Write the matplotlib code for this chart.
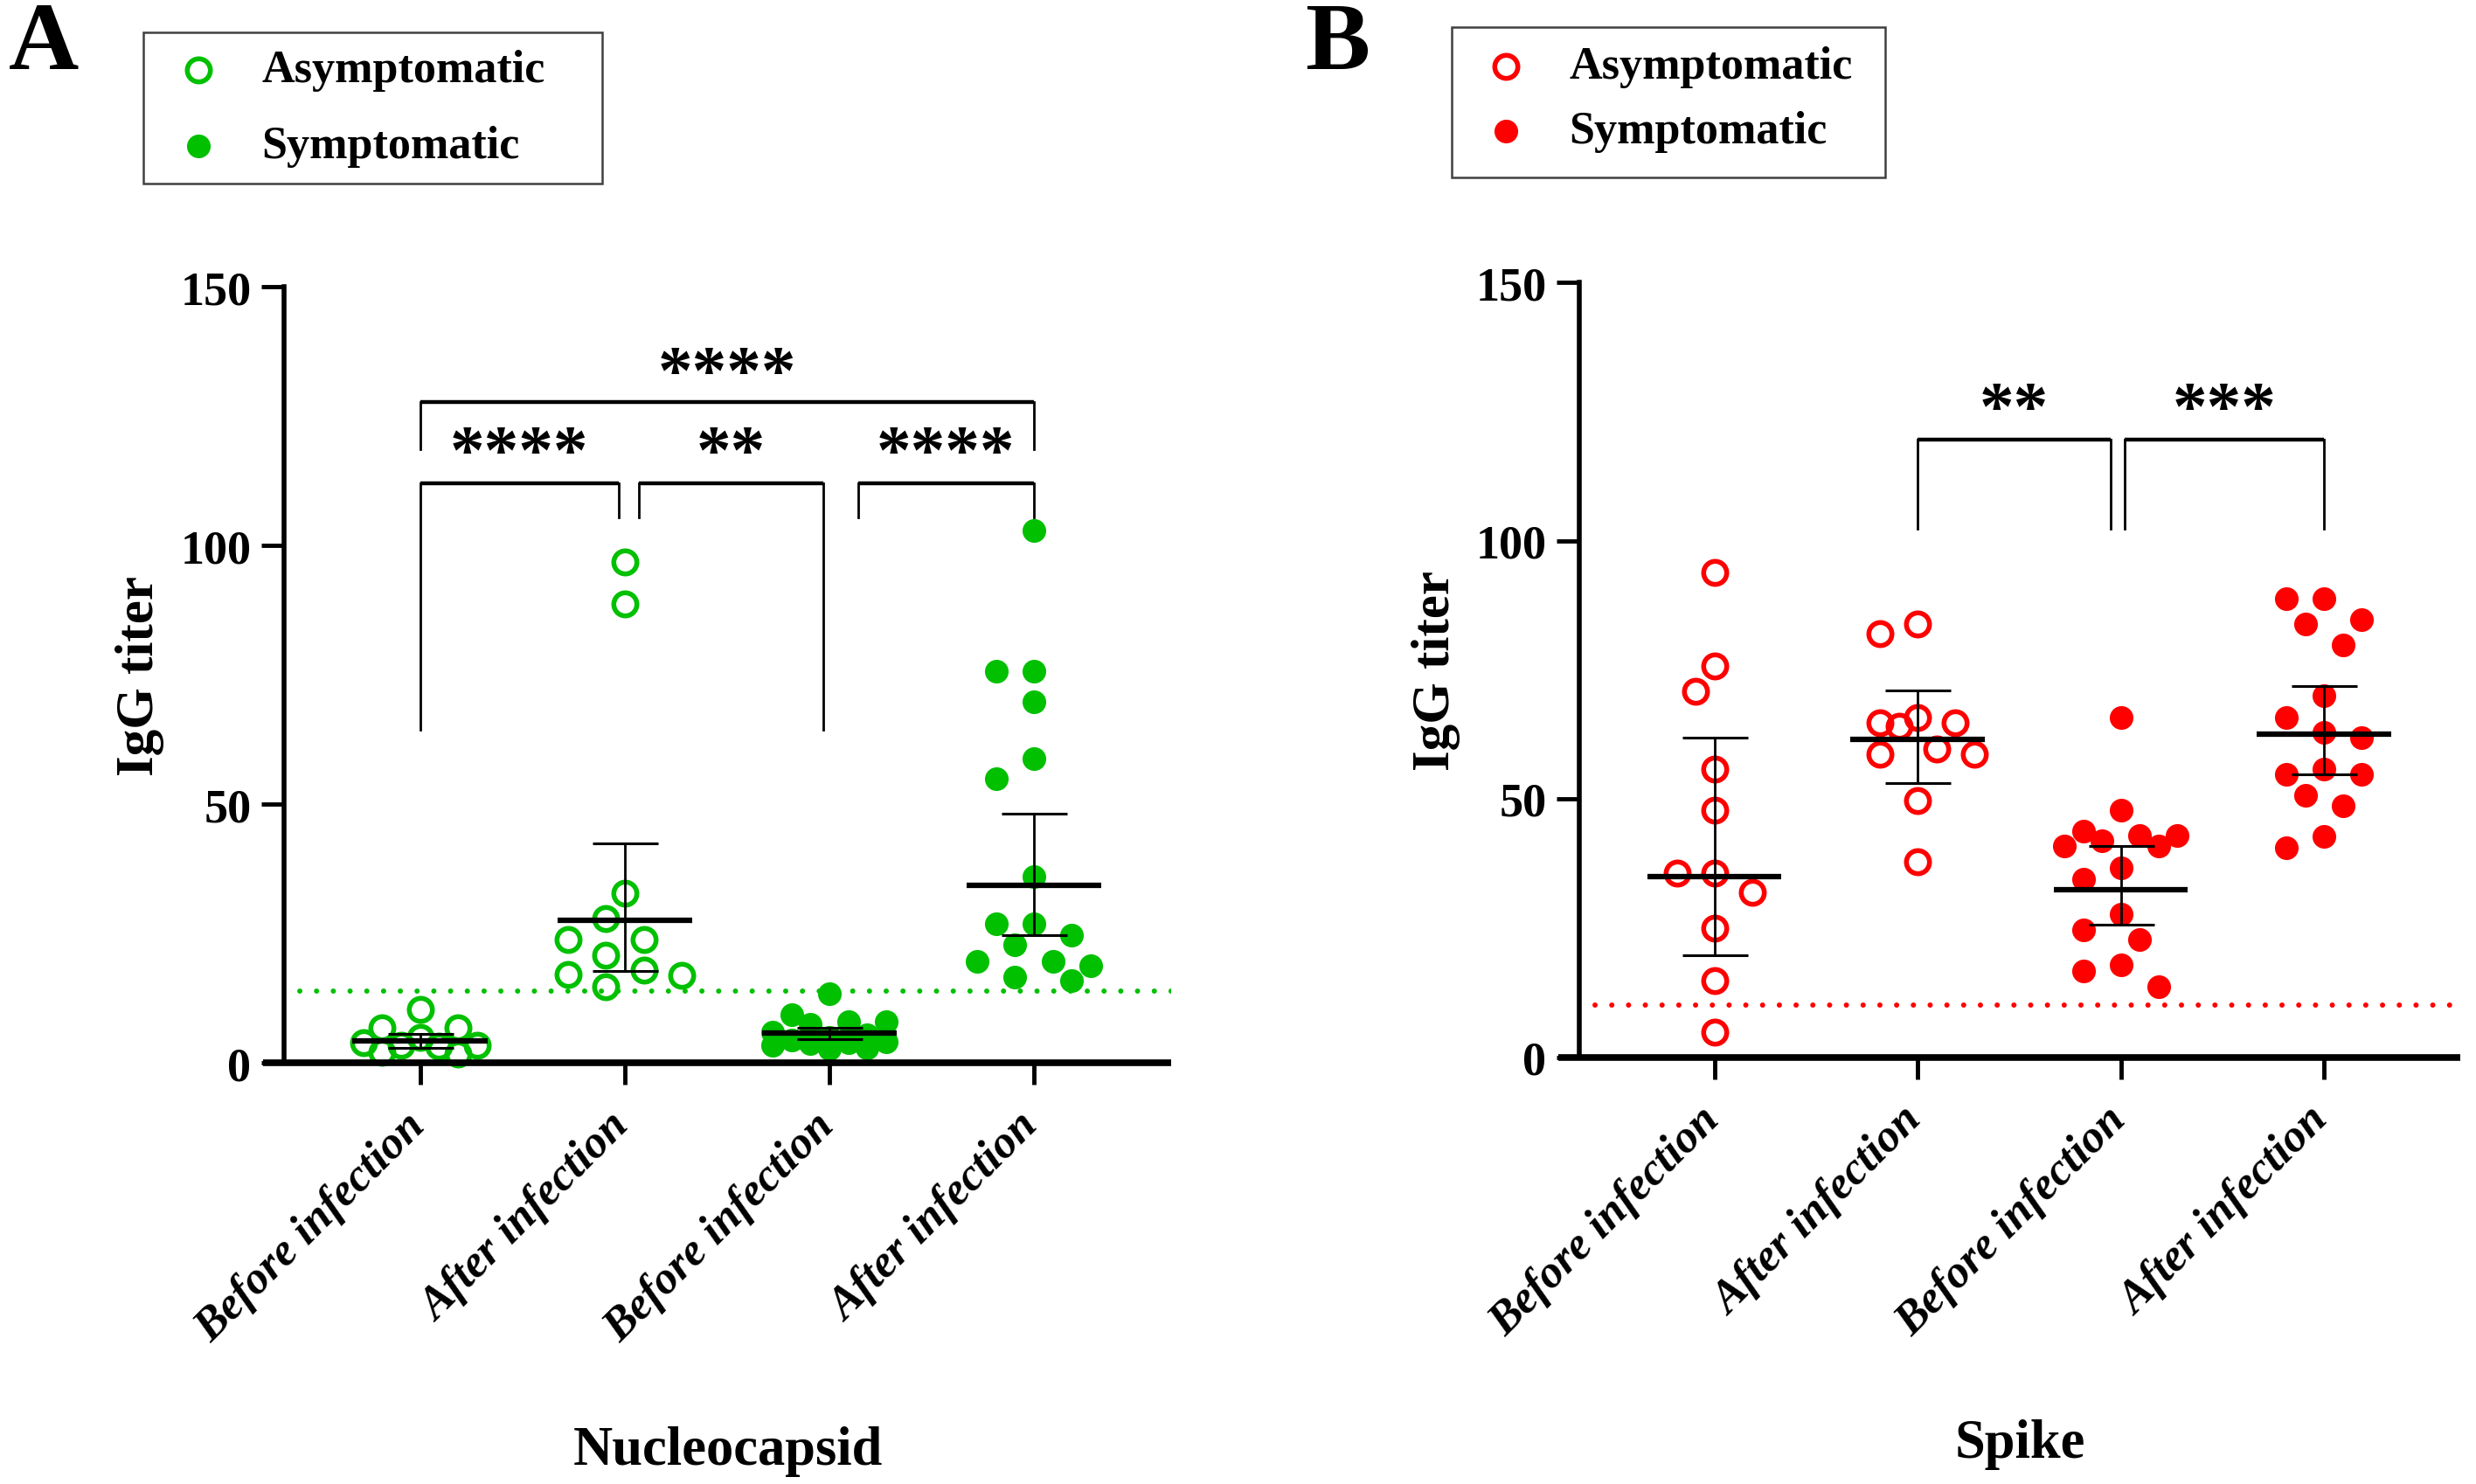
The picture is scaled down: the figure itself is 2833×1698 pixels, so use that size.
import numpy as np
import matplotlib
matplotlib.use('Agg')
import matplotlib.pyplot as plt
from matplotlib.lines import Line2D
from matplotlib.patches import Rectangle
import matplotlib.transforms as mtransforms

# ---------------- data ----------------
categories = ['Before infection', 'After infection', 'Before infection', 'After infection']
legend_labels = ['Asymptomatic', 'Symptomatic']

# Panel A : Nucleocapsid IgG titer
n_asym_before = [10.4, 6.9, 6.9, 5.0, 4.0, 3.5, 3.5, 3.2, 2.1, 1.8]
n_asym_after = [96.8, 88.8, 32.9, 27.9, 23.9, 23.9, 20.9, 18.0, 17.1, 16.9, 14.8]
n_sym_before = [13.4, 9.4, 8.0, 8.0, 7.5, 6.0, 5.5, 5.0, 4.5, 4.2, 4.0, 3.8, 3.5, 3.0, 2.7]
n_sym_after = [102.9, 75.8, 75.8, 69.9, 58.8, 54.9, 36.1, 27.0, 27.0, 24.7, 22.8,
               19.7, 18.8, 19.7, 16.7, 15.9]
n_center = [4.3, 27.6, 5.8, 34.4]
n_err_low = [2.9, 17.8, 4.6, 24.7]
n_err_high = [5.6, 42.5, 6.9, 48.2]
n_cutoff = 14

# Panel B : Spike IgG titer
s_asym_before = [93.8, 75.8, 70.8, 55.8, 47.8, 35.7, 35.7, 31.9, 24.9, 14.8, 4.9]
s_asym_after = [83.8, 81.9, 65.8, 64.8, 64.8, 64.0, 59.6, 58.7, 58.7, 49.7, 37.8]
s_sym_before = [65.7, 47.8, 43.8, 42.9, 42.9, 41.8, 40.8, 40.8, 36.6, 34.5, 27.7,
                24.7, 22.8, 17.8, 16.7, 13.7]
s_sym_after = [88.7, 88.7, 84.7, 83.8, 79.7, 69.9, 65.8, 62.9, 61.9, 54.8, 54.8,
               55.7, 50.7, 48.6, 42.7, 40.6]
s_center = [34.9, 61.5, 32.4, 62.6]
s_err_low = [19.7, 53.0, 25.7, 54.7]
s_err_high = [61.9, 71.0, 40.8, 71.9]
s_cutoff = 10

n_sig_labels = ['****', '****', '**', '****']
s_sig_labels = ['**', '***']

GREEN = '#00C000'
RED = '#FF0000'

# ---------------- figure ----------------
W, H = 2833, 1699
DPI = 100
fig = plt.figure(figsize=(W / DPI, H / DPI), dpi=DPI)
SERIF = 'Liberation Serif'


def fx(x):
    return x / W


def fy(y):
    return 1 - y / H


axA = fig.add_axes([fx(325), fy(1217.4), (1340 - 325) / W, (1217.4 - 329.4) / H])
axB = fig.add_axes([fx(1807), fy(1210.5), (2815 - 1807) / W, (1210.5 - 324) / H])


def swarm(ax, vals, grid=0.0925, D=34.0, kmax=3):
    p0 = ax.transData.transform((0, 0))
    p1 = ax.transData.transform((1, 1))
    ppx, ppy = p1[0] - p0[0], p1[1] - p0[1]
    vals = np.asarray(vals, float)
    order = np.argsort(-vals, kind='stable')
    cands = [0]
    for k in range(1, kmax + 1):
        cands += [-k, k]
    placed = []
    offs = np.zeros(len(vals))
    for i in order:
        y = vals[i]
        chosen = None
        bestd, bestx = -1, 0
        for k in cands:
            x = k * grid
            if placed:
                d = min(np.hypot((x - px) * ppx, (y - py) * ppy) for px, py in placed)
            else:
                d = 1e9
            if d >= D:
                chosen = x
                break
            if d > bestd:
                bestd, bestx = d, x
        if chosen is None:
            chosen = bestx
        offs[i] = chosen
        placed.append((chosen, y))
    return offs


def setup(ax, ylabel, xlabel):
    ax.set_xlim(-0.665, 3.67)
    ax.set_ylim(0, 150)
    for s in ['top', 'right', 'bottom']:
        ax.spines[s].set_visible(False)
    ax.spines['left'].set_linewidth(4)
    ax.add_line(Line2D([-0.024, 1.0], [0, 0], transform=ax.transAxes, color='black',
                       lw=5.5, clip_on=False, solid_capstyle='butt', zorder=6))
    ax.set_yticks([0, 50, 100, 150])
    ax.set_xticks(range(4))
    ax.tick_params(axis='y', length=19, width=3.5, pad=8, labelsize=39)
    ax.tick_params(axis='x', length=18, width=3.5, pad=28, labelsize=37.5)
    for lab in ax.get_yticklabels():
        lab.set_fontfamily(SERIF)
        lab.set_fontweight('bold')
    ax.set_xticklabels(categories)
    off = mtransforms.ScaledTranslation(-0.02, 0.0, fig.dpi_scale_trans)
    for lab in ax.get_xticklabels():
        lab.set_fontfamily(SERIF)
        lab.set_fontweight('bold')
        lab.set_fontstyle('italic')
        lab.set_rotation(45)
        lab.set_ha('right')
        lab.set_va('center')
        lab.set_rotation_mode('anchor')
        lab.set_transform(lab.get_transform() + off)
    ax.set_ylabel(ylabel, fontsize=44, fontweight='bold', fontfamily=SERIF)
    ax.set_xlabel(xlabel, fontsize=45, fontweight='bold', fontfamily=SERIF)


def draw_panel(ax, groups, centers, lows, highs, cutoff, color):
    ax.axhline(cutoff, xmin=0.018, xmax=1.0, color=color, lw=4.3,
               linestyle=(0, (0.01, 3.2)), dash_capstyle='round', zorder=1)
    for i, vals in enumerate(groups):
        offs = swarm(ax, vals)
        xs = i + offs
        filled = i >= 2
        if filled:
            ax.plot(xs, vals, 'o', ms=19.5, mfc=color, mec=color, mew=0,
                    ls='none', clip_on=False, zorder=3)
        else:
            ax.plot(xs, vals, 'o', ms=19, mfc='none', mec=color, mew=4,
                    ls='none', clip_on=False, zorder=3)
    for i in range(4):
        ax.hlines(centers[i], i - 0.33, i + 0.33, color='black', lw=4.5, zorder=5)
        ax.errorbar([i], [centers[i]],
                    yerr=[[centers[i] - lows[i]], [highs[i] - centers[i]]],
                    fmt='none', ecolor='black', elinewidth=2, capsize=27,
                    capthick=2.2, zorder=5)


def bracket(ax, x0, x1, y, yl0, yl1, label, ty, lw_h=3.2, lw_v=2.0):
    ax.plot([x0, x1], [y, y], color='black', lw=lw_h, solid_capstyle='butt',
            clip_on=False, zorder=4)
    ax.plot([x0, x0], [y, yl0], color='black', lw=lw_v, clip_on=False, zorder=4)
    ax.plot([x1, x1], [y, yl1], color='black', lw=lw_v, clip_on=False, zorder=4)
    ax.text((x0 + x1) / 2, ty, label, ha='center', va='center', fontsize=57,
            fontweight='bold', fontfamily=SERIF, zorder=4)


# ----- Panel A -----
setup(axA, 'IgG titer', 'Nucleocapsid')
draw_panel(axA, [n_asym_before, n_asym_after, n_sym_before, n_sym_after],
           n_center, n_err_low, n_err_high, n_cutoff, GREEN)
bracket(axA, 0, 3, 127.7, 118.6, 118.6, n_sig_labels[0], 133.0)
bracket(axA, 0, 0.97, 112.1, 64.5, 105.5, n_sig_labels[1], 117.5)
bracket(axA, 1.07, 1.97, 112.1, 105.5, 64.5, n_sig_labels[2], 117.5)
bracket(axA, 2.14, 3.0, 112.1, 105.5, 105.5, n_sig_labels[3], 117.5)

# ----- Panel B -----
setup(axB, 'IgG titer', 'Spike')
draw_panel(axB, [s_asym_before, s_asym_after, s_sym_before, s_sym_after],
           s_center, s_err_low, s_err_high, s_cutoff, RED)
bracket(axB, 1.0, 1.95, 119.6, 102.3, 102.3, s_sig_labels[0], 125.0)
bracket(axB, 2.02, 3.0, 119.6, 102.3, 102.3, s_sig_labels[1], 125.0)

for ax in (axA, axB):
    ax.yaxis.label.set_verticalalignment('center')
    ax.yaxis.set_label_coords(-0.163, 0.5)
    ax.xaxis.set_label_coords(0.5, -0.467)


# ----- legends (frame + entries) -----
def legend_box(box, mx, rows, tx, color):
    x0, y0, x1, y1 = box
    fig.add_artist(Rectangle((fx(x0), fy(y1)), (x1 - x0) / W, (y1 - y0) / H,
                             transform=fig.transFigure, fill=False,
                             edgecolor='#404040', lw=1.8))
    styles = [dict(mfc='none', mec=color, mew=4, ms=19),
              dict(mfc=color, mec=color, mew=0, ms=19.5)]
    for lab, ry, st in zip(legend_labels, rows, styles):
        fig.add_artist(Line2D([fx(mx)], [fy(ry)], transform=fig.transFigure,
                              marker='o', ls='none', **st))
        fig.text(fx(tx), fy(ry), lab, ha='left', va='center', fontsize=37.5,
                 fontweight='bold', fontfamily=SERIF)


legend_box((164, 38, 689, 211), 227, (81, 168), 299, GREEN)
legend_box((1661, 32, 2157, 204), 1723, (77, 151), 1795, RED)

fig.text(fx(10), fy(2), 'A', ha='left', va='top', fontsize=80, fontweight='bold',
         fontfamily=SERIF)
fig.text(fx(1493), fy(2), 'B', ha='left', va='top', fontsize=80, fontweight='bold',
         fontfamily=SERIF)

fig.savefig('out.png', dpi=DPI)
